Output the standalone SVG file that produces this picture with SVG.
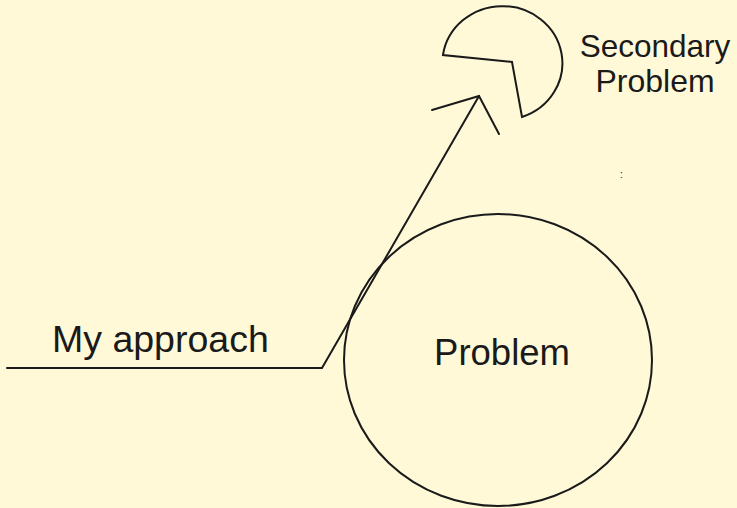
<svg xmlns="http://www.w3.org/2000/svg" width="737" height="508" viewBox="0 0 737 508">
<style>
.ln{fill:none;stroke:#1a1a1a;stroke-width:2;stroke-linejoin:miter;stroke-linecap:round}
.tx{font-family:"Liberation Sans",Arial,sans-serif;fill:#1a1a1a}
</style>
<rect width="737" height="508" fill="#FFF9D8"/>
<g id="problem">
<ellipse class="ln" cx="498" cy="360" rx="154" ry="146"/>
<text class="tx" x="502" y="365" font-size="36.5" text-anchor="middle">Problem</text>
</g>
<g id="secondary-problem">
<path class="ln" d="M443,55 A60,57 0 1 1 522,117 L512,62 Z"/>
<text class="tx" x="655" y="57" font-size="31.5" text-anchor="middle">Secondary</text>
<text class="tx" x="655" y="92" font-size="32" text-anchor="middle">Problem</text>
</g>
<g id="my-approach">
<text class="tx" x="52" y="352" font-size="37.5">My approach</text>
</g>
<g id="connectors">
<polyline class="ln" points="7,368 322,368 479,96"/>
<polyline class="ln" points="432,110 479,96 499,134"/>
</g>
<text class="tx" x="620" y="178" font-size="10">:</text>
</svg>
